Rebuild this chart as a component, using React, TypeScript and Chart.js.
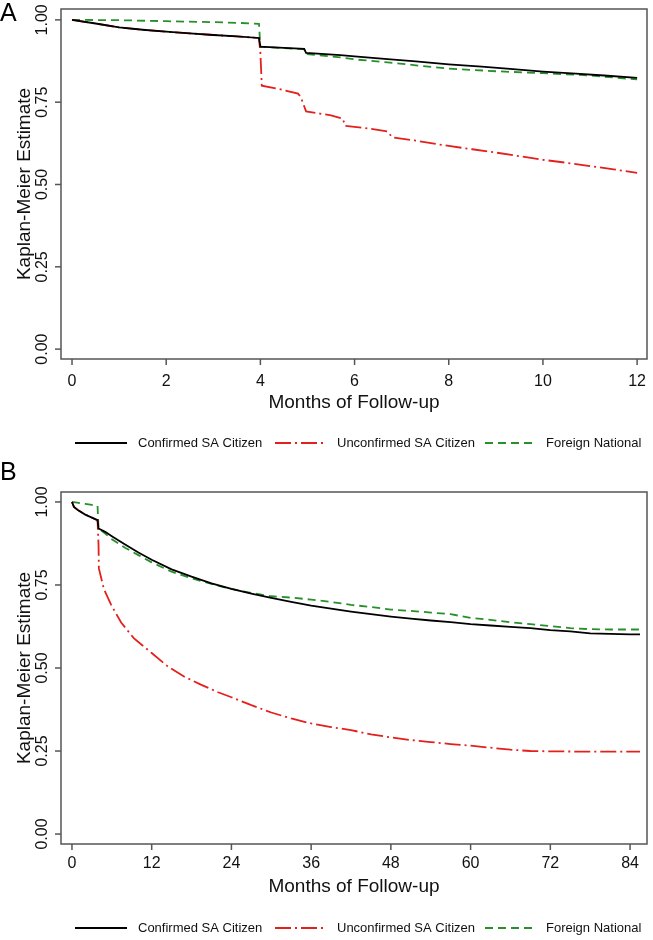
import React, { useEffect, useRef } from "react";
import { Chart, registerables } from "chart.js";
Chart.register(...registerables);

// ---------- DATA ----------
const seriesNames = ["Confirmed SA Citizen", "Unconfirmed SA Citizen", "Foreign National"];
const seriesColors = ["#000000", "#e3201c", "#27902a"];

const yTickValues = [0, 0.25, 0.5, 0.75, 1];
const yTickLabels = ["0.00", "0.25", "0.50", "0.75", "1.00"];
const xTicksA = [0, 2, 4, 6, 8, 10, 12];
const xTicksB = [0, 12, 24, 36, 48, 60, 72, 84];

// Panel A (0-12 months)
const aConfirmedT = [0, 0.5, 1.0, 1.5, 2.0, 2.5, 3.0, 3.5, 3.97, 4.0, 4.5, 4.93, 4.97, 5.7, 6.0, 6.7, 7.3, 8.0, 8.7, 9.3, 10.0, 10.7, 11.3, 12.0];
const aConfirmedS = [1.0, 0.989, 0.977, 0.970, 0.964, 0.959, 0.954, 0.950, 0.945, 0.919, 0.915, 0.912, 0.900, 0.893, 0.889, 0.881, 0.874, 0.865, 0.858, 0.851, 0.843, 0.837, 0.831, 0.824];
const aUnconfT = [0, 0.5, 1.0, 1.5, 2.0, 2.5, 3.0, 3.5, 3.97, 4.0, 4.03, 4.4, 4.8, 4.86, 4.97, 5.5, 5.75, 5.8, 6.3, 6.7, 6.8, 7.3, 8.0, 8.5, 9.0, 9.5, 10.0, 10.5, 11.0, 11.5, 12.0];
const aUnconfS = [1.0, 0.989, 0.977, 0.970, 0.964, 0.959, 0.954, 0.950, 0.945, 0.900, 0.800, 0.790, 0.776, 0.765, 0.722, 0.710, 0.700, 0.678, 0.670, 0.661, 0.643, 0.633, 0.617, 0.607, 0.597, 0.586, 0.575, 0.566, 0.556, 0.546, 0.535];
const aForeignT = [0, 1, 2, 3, 3.5, 3.97, 4.0, 4.5, 4.93, 4.97, 5.7, 6.0, 6.7, 7.3, 8.0, 9.0, 10.0, 11.0, 12.0];
const aForeignS = [1.0, 0.999, 0.996, 0.993, 0.991, 0.988, 0.918, 0.914, 0.911, 0.896, 0.886, 0.880, 0.871, 0.862, 0.852, 0.844, 0.838, 0.831, 0.819];

// Panel B (0-86 months)
const bConfirmedT = [0, 0.3, 1, 2, 3, 3.85, 4.0, 5, 6, 8, 10, 12, 15, 18, 21, 24, 27, 30, 33, 36, 39, 42, 45, 48, 51, 54, 57, 60, 63, 66, 69, 72, 75, 78, 81, 84, 85.5];
const bConfirmedS = [1.0, 0.985, 0.974, 0.962, 0.953, 0.945, 0.920, 0.910, 0.897, 0.872, 0.848, 0.826, 0.797, 0.775, 0.755, 0.738, 0.724, 0.711, 0.699, 0.688, 0.679, 0.670, 0.662, 0.655, 0.649, 0.643, 0.638, 0.632, 0.628, 0.624, 0.620, 0.614, 0.610, 0.604, 0.603, 0.601, 0.601];
const bUnconfT = [0, 0.3, 1, 2, 3, 3.85, 4.0, 4.05, 4.8, 5.9, 7.4, 9.3, 12, 14.4, 16.8, 19.4, 22, 24, 27, 30, 33, 36, 39, 42, 45, 48, 51, 54, 57, 60, 63, 66, 69, 72, 78, 84, 85.5];
const bUnconfS = [1.0, 0.985, 0.974, 0.962, 0.953, 0.945, 0.870, 0.800, 0.738, 0.690, 0.637, 0.590, 0.545, 0.505, 0.475, 0.450, 0.427, 0.412, 0.388, 0.366, 0.348, 0.333, 0.322, 0.313, 0.300, 0.291, 0.283, 0.277, 0.271, 0.266, 0.260, 0.254, 0.250, 0.249, 0.248, 0.248, 0.248];
const bForeignT = [0, 1, 2, 3, 3.85, 4.0, 5, 6, 8, 10, 12, 15, 18, 21, 24, 27, 30, 33, 36, 39, 42, 45, 48, 51, 54, 57, 60, 63, 66, 69, 72, 75, 78, 81, 84, 85.5];
const bForeignS = [1.0, 0.997, 0.994, 0.991, 0.988, 0.920, 0.905, 0.888, 0.862, 0.840, 0.818, 0.790, 0.770, 0.753, 0.738, 0.726, 0.716, 0.712, 0.706, 0.699, 0.690, 0.684, 0.676, 0.672, 0.667, 0.662, 0.651, 0.645, 0.638, 0.632, 0.626, 0.620, 0.617, 0.616, 0.616, 0.616];

// ---------- STYLE ----------
const dashes: number[][] = [[], [16, 4, 2, 4], [8, 5]];
const FONT = "'Liberation Sans', Arial, Helvetica, sans-serif";
const W = 653;

type Panel = {
  letter: string;
  canvasTop: number;
  canvasH: number;
  box: { l: number; t: number; r: number; b: number };
  xMin: number; xMax: number; yMin: number; yMax: number;
  xTicks: number[];
  series: { t: number[]; s: number[] }[];
  letterBase: number;
  xLabelY: number;
  xTitleY: number;
  legendY: number;
};

const panels: Panel[] = [
  {
    letter: "A", canvasTop: 0, canvasH: 455,
    box: { l: 61, t: 9, r: 647, b: 359 },
    xMin: -0.234, xMax: 12.21, yMin: -0.030, yMax: 1.033,
    xTicks: xTicksA,
    series: [{ t: aConfirmedT, s: aConfirmedS }, { t: aUnconfT, s: aUnconfS }, { t: aForeignT, s: aForeignS }],
    letterBase: 21, xLabelY: 382, xTitleY: 403, legendY: 443,
  },
  {
    letter: "B", canvasTop: 455, canvasH: 485,
    box: { l: 61, t: 492, r: 647, b: 844 },
    xMin: -1.65, xMax: 86.55, yMin: -0.030, yMax: 1.030,
    xTicks: xTicksB,
    series: [{ t: bConfirmedT, s: bConfirmedS }, { t: bUnconfT, s: bUnconfS }, { t: bForeignT, s: bForeignS }],
    letterBase: 480, xLabelY: 864, xTitleY: 887, legendY: 928,
  },
];

function makeFrame(p: Panel) {
  const off = p.canvasTop;
  return {
    id: "frame" + p.letter,
    afterDraw(chart: any) {
      const ctx: CanvasRenderingContext2D = chart.ctx;
      const { left, top, right, bottom } = chart.chartArea;
      const xs = chart.scales.x;
      const ys = chart.scales.y;
      ctx.save();
      ctx.strokeStyle = "#555";
      ctx.lineWidth = 1.5;
      ctx.setLineDash([]);
      ctx.strokeRect(left, top, right - left, bottom - top);
      ctx.fillStyle = "#111";
      ctx.font = "16px " + FONT;
      yTickValues.forEach((v, i) => {
        const y = ys.getPixelForValue(v);
        ctx.beginPath();
        ctx.moveTo(left - 6, y);
        ctx.lineTo(left, y);
        ctx.stroke();
        ctx.save();
        ctx.translate(47, y);
        ctx.rotate(-Math.PI / 2);
        ctx.textAlign = "center";
        ctx.textBaseline = "alphabetic";
        ctx.fillText(yTickLabels[i], 0, 0);
        ctx.restore();
      });
      p.xTicks.forEach((v) => {
        const x = xs.getPixelForValue(v);
        ctx.beginPath();
        ctx.moveTo(x, bottom);
        ctx.lineTo(x, bottom + 6);
        ctx.stroke();
        ctx.textAlign = "center";
        ctx.textBaseline = "middle";
        ctx.fillText(String(v), x, p.xLabelY - off);
      });
      ctx.font = "19px " + FONT;
      ctx.textAlign = "center";
      ctx.textBaseline = "middle";
      ctx.fillText("Months of Follow-up", (left + right) / 2, p.xTitleY - off);
      ctx.save();
      ctx.translate(30, (top + bottom) / 2);
      ctx.rotate(-Math.PI / 2);
      ctx.textBaseline = "alphabetic";
      ctx.fillText("Kaplan-Meier Estimate", 0, 0);
      ctx.restore();
      ctx.font = "25px " + FONT;
      ctx.textAlign = "left";
      ctx.textBaseline = "alphabetic";
      ctx.fillStyle = "#000";
      ctx.fillText(p.letter, 0, p.letterBase - off);
      const ly = p.legendY - off;
      const lineX = [[75, 127], [275, 323], [485, 537]];
      const textX = [138, 337, 546];
      ctx.font = "13px " + FONT;
      ctx.textBaseline = "middle";
      seriesNames.forEach((name, i) => {
        ctx.strokeStyle = seriesColors[i];
        ctx.lineWidth = 1.8;
        ctx.setLineDash(dashes[i]);
        ctx.beginPath();
        ctx.moveTo(lineX[i][0], ly);
        ctx.lineTo(lineX[i][1], ly);
        ctx.stroke();
        ctx.setLineDash([]);
        ctx.fillStyle = "#111";
        ctx.fillText(name, textX[i], ly);
      });
      ctx.restore();
    },
  };
}

function KMPanel({ p }: { p: Panel }) {
  const ref = useRef<HTMLCanvasElement>(null);
  useEffect(() => {
    if (!ref.current) return;
    const off = p.canvasTop;
    const chart = new Chart(ref.current, {
      type: "line",
      data: {
        datasets: p.series.map((s, i) => ({
          label: seriesNames[i],
          data: s.t.map((t, j) => ({ x: t, y: s.s[j] })),
          borderColor: seriesColors[i],
          borderWidth: 1.8,
          borderDash: dashes[i],
          pointRadius: 0,
          fill: false,
          tension: 0,
        })),
      },
      options: {
        responsive: false,
        animation: false,
        events: [],
        layout: {
          padding: {
            left: p.box.l,
            top: p.box.t - off,
            right: W - p.box.r,
            bottom: p.canvasH - (p.box.b - off),
          },
        },
        plugins: { legend: { display: false }, tooltip: { enabled: false }, title: { display: false } },
        scales: {
          x: { type: "linear", display: false, min: p.xMin, max: p.xMax },
          y: { type: "linear", display: false, min: p.yMin, max: p.yMax },
        },
      },
      plugins: [makeFrame(p)],
    });
    return () => chart.destroy();
  }, [p]);
  return (
    <canvas
      ref={ref}
      width={W}
      height={p.canvasH}
      style={{ position: "absolute", left: 0, top: p.canvasTop, width: W, height: p.canvasH }}
    />
  );
}

export default function App() {
  return (
    <div style={{ position: "absolute", left: 0, top: 0, width: W, height: 940, background: "#fff" }}>
      {panels.map((p) => (
        <KMPanel key={p.letter} p={p} />
      ))}
    </div>
  );
}
